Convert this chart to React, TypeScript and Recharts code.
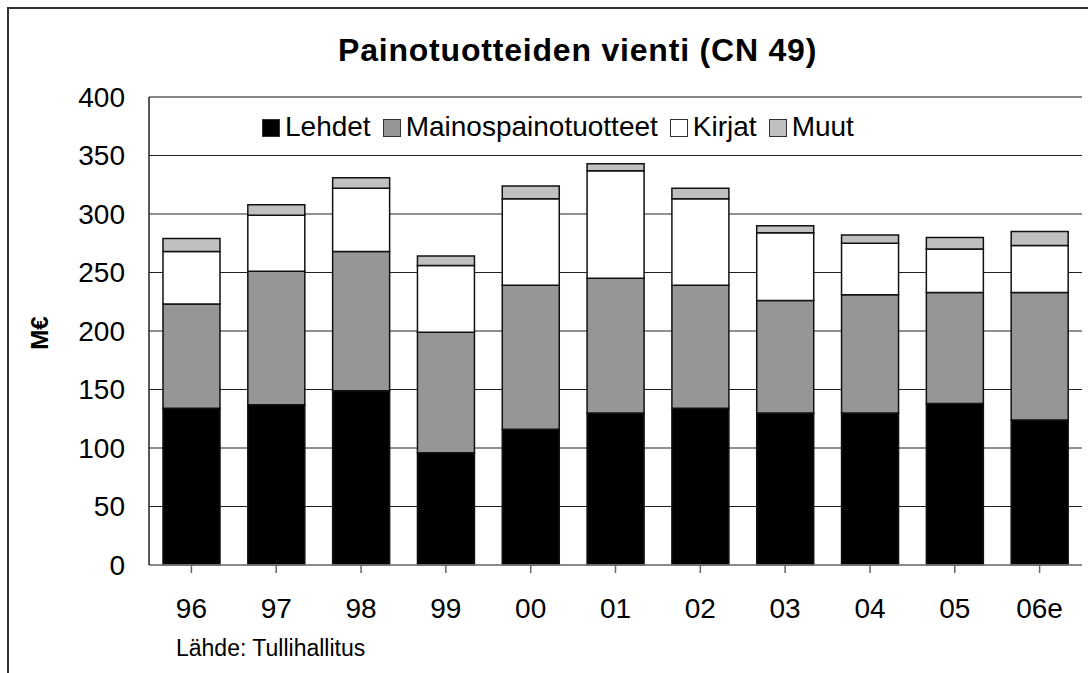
import { BarChart, Bar, XAxis, YAxis, CartesianGrid, Legend, ReferenceLine } from 'recharts'

const years = ['96', '97', '98', '99', '00', '01', '02', '03', '04', '05', '06e']
const lehdet = [134, 137, 149, 96, 116, 130, 134, 130, 130, 138, 124]
const mainos = [89, 114, 119, 103, 123, 115, 105, 96, 101, 95, 109]
const kirjat = [45, 48, 54, 57, 74, 92, 74, 58, 44, 37, 40]
const muut = [11, 9, 9, 8, 11, 6, 9, 6, 7, 10, 12]
const yTicks = [0, 50, 100, 150, 200, 250, 300, 350, 400]
const seriesOrder = ['Lehdet', 'Mainospainotuotteet', 'Kirjat', 'Muut']

const data = years.map((year, i) => ({
  year,
  Lehdet: lehdet[i],
  Mainospainotuotteet: mainos[i],
  Kirjat: kirjat[i],
  Muut: muut[i],
}))

const font = '"Liberation Sans", Arial, sans-serif'

function LegendContent({ payload }: any) {
  // keep the series order, not the alphabetical one
  const items = [...(payload || [])].sort(
    (a: any, b: any) => seriesOrder.indexOf(a.value) - seriesOrder.indexOf(b.value)
  )
  return (
    <div style={{ display: 'flex', alignItems: 'center', fontFamily: font, fontSize: 28, lineHeight: 1, color: '#000', whiteSpace: 'nowrap' }}>
      {items.map((p: any) => (
        <div key={p.value} style={{ display: 'flex', alignItems: 'center', marginRight: 12 }}>
          <span style={{ display: 'inline-block', width: 16, height: 16, background: p.color, border: '1.5px solid #333', marginRight: 5, position: 'relative', top: 1 }} />
          <span>{p.value}</span>
        </div>
      ))}
    </div>
  )
}

export default function App() {
  return (
    <div style={{ position: 'absolute', left: 0, top: 0, width: 1088, height: 673, overflow: 'hidden', background: '#fff', fontFamily: font }}>
      {/* outer chart frame */}
      <div style={{ position: 'absolute', left: 7, top: 7, width: 1100, height: 700, borderTop: '2px solid #333', borderLeft: '2px solid #333' }} />

      <div style={{ position: 'absolute', left: 0, top: 0 }}>
        <BarChart
          width={1088}
          height={673}
          data={data}
          margin={{ top: 97, right: 6, bottom: 68, left: 69 }}
          barCategoryGap="16.5%"
        >
          <CartesianGrid vertical={false} stroke="#222" strokeWidth={1} />
          <XAxis
            dataKey="year"
            height={40}
            axisLine={{ stroke: '#888', strokeWidth: 1.5 }}
            tickLine={{ stroke: '#666', strokeWidth: 1.5 }}
            tickSize={8}
            tickMargin={25}
            tick={{ fill: '#000', fontSize: 28, fontFamily: font }}
            interval={0}
          />
          <YAxis
            domain={[0, 400]}
            ticks={yTicks}
            width={80}
            axisLine={{ stroke: '#222', strokeWidth: 1.5 }}
            tickLine={false}
            tickSize={0}
            tickMargin={24}
            tick={{ fill: '#000', fontSize: 28, fontFamily: font }}
          />
          <YAxis
            yAxisId="r"
            orientation="right"
            width={0}
            domain={[0, 400]}
            tick={false}
            tickLine={false}
            axisLine={{ stroke: '#888', strokeWidth: 2 }}
          />
          <ReferenceLine y={400} stroke="#888" strokeWidth={2} />
          <Legend
            layout="horizontal"
            verticalAlign="middle"
            align="center"
            content={<LegendContent />}
            wrapperStyle={{ left: 262, top: 113, width: 'auto', height: 'auto' }}
          />
          <Bar dataKey="Lehdet" stackId="a" fill="#000" stroke="#111" strokeWidth={1.5} isAnimationActive={false} />
          <Bar dataKey="Mainospainotuotteet" stackId="a" fill="#969696" stroke="#111" strokeWidth={1.5} isAnimationActive={false} />
          <Bar dataKey="Kirjat" stackId="a" fill="#fff" stroke="#111" strokeWidth={1.5} isAnimationActive={false} />
          <Bar dataKey="Muut" stackId="a" fill="#c0c0c0" stroke="#111" strokeWidth={1.5} isAnimationActive={false} />
        </BarChart>
      </div>

      <div style={{ position: 'absolute', left: 338, top: 34, fontSize: 32, fontWeight: 'bold', letterSpacing: 0.8, lineHeight: 1, color: '#000', whiteSpace: 'nowrap' }}>
        Painotuotteiden vienti (CN 49)
      </div>

      <div style={{ position: 'absolute', left: 40, top: 333, transform: 'translate(-50%, -50%) rotate(-90deg)', fontSize: 24, fontWeight: 'bold', lineHeight: 1, color: '#000', whiteSpace: 'nowrap' }}>
        M€
      </div>

      <div style={{ position: 'absolute', left: 176, top: 637, fontSize: 23, lineHeight: 1, color: '#000', whiteSpace: 'nowrap' }}>
        Lähde: Tullihallitus
      </div>
    </div>
  )
}
